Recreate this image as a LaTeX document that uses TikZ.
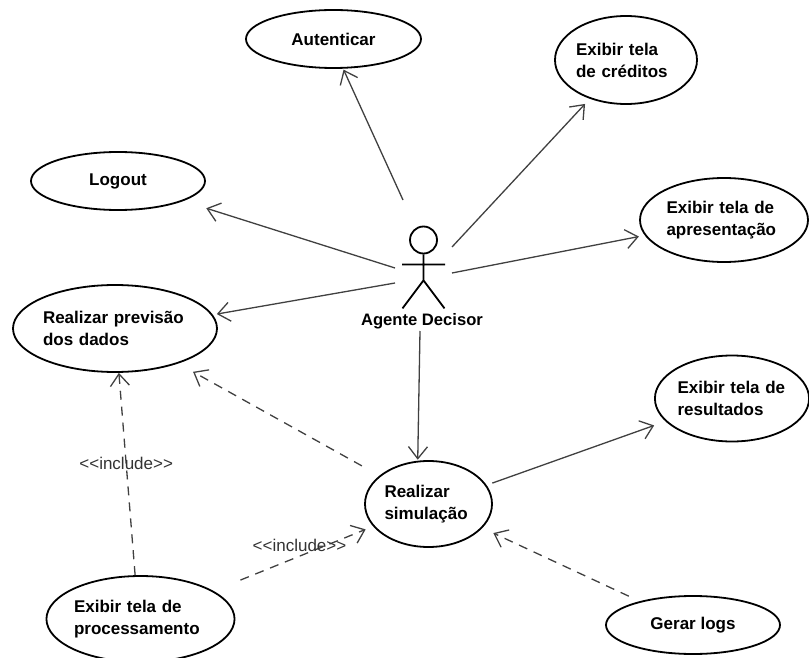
\documentclass[tikz,border=0pt]{standalone}
\usepackage{fontspec}
\setmainfont{Liberation Sans}
\usetikzlibrary{shapes,arrows.meta}
\tikzset{
    usecase/.style = {draw, ellipse, line width=1.8pt, inner sep=0pt, align=left,
        font=\fontsize{17}{22}\selectfont\bfseries},
    ator/.style = {inner sep=0pt, font=\fontsize{16.6}{22}\selectfont\bfseries},
    input/.style = {coordinate},
    arrow/.style = {draw, line width=1.3pt, black!75, -{Straight Barb[length=12pt,width=19pt]}},
    inclui/.style = {arrow, dash pattern=on 9pt off 7pt},
    rotulo/.style = {inner sep=0pt, black!80, font=\fontsize{17}{19}\selectfont}
}
\def\boneco{%
    -- +(0,26) +(-21.5,10) -- +(21.5,10) +(0,26) -- +(-21,54) +(0,26) -- +(21,54)
}
\begin{document}
\begin{tikzpicture}[x=1pt, y=-1pt]
        \useasboundingbox (0,0) rectangle (809,658);

        \node [usecase, minimum width=175, minimum height=58, name=autenticar] at (333.5,39) {Autenticar};
        \node [usecase, minimum width=142, minimum height=88, text width=100, name=creditos] at (626,60) {Exibir tela\\de créditos};
        \node [usecase, minimum width=174, minimum height=58, name=logout] at (118,181) {Logout};
        \node [usecase, minimum width=168, minimum height=84, text width=115, name=apresentacao] at (724,220) {Exibir tela de\\apresentação};
        \node [usecase, minimum width=204, minimum height=87, text width=144, name=previsao] at (115,328.5) {Realizar previsão\\dos dados};
        \node [usecase, minimum width=154, minimum height=86, text width=109, name=resultados] at (732,398.5) {Exibir tela de\\resultados};
        \node [usecase, minimum width=127, minimum height=86, text width=88, name=simulacao] at (428.5,504) {Realizar\\simulação};
        \node [usecase, minimum width=188, minimum height=86, text width=133, name=processamento] at (140.5,619) {Exibir tela de\\processamento};
        \node [usecase, minimum width=174, minimum height=58, name=logs] at (693,625) {Gerar logs};

        % ator
        \node [draw, circle, line width=1.8pt, minimum size=27, inner sep=0pt, name=cabeca] at (423.5,240) {};
        \draw [line width=1.8pt] (cabeca.south) \boneco;
        \node [ator, name=agente] at (422,321) {Agente Decisor};

        \node [input, name=ator1] at (403,200) {};
        \node [input, name=ator2] at (452,247) {};
        \node [input, name=ator3] at (452,273) {};
        \node [input, name=ator4] at (395,268) {};
        \node [input, name=ator5] at (395,283) {};
        \node [input, name=ator6] at (420,331) {};

        \draw [arrow, shorten >=1pt] (ator1) -- (autenticar.-72.4);
        \draw [arrow, shorten >=7pt] (ator2) -- (creditos.-133.6);
        \draw [arrow, shorten >=6pt] (ator3) -- (apresentacao.191.4);
        \draw [arrow, shorten >=24pt] (ator4) -- (logout.-17.4);
        \draw [arrow, shorten >=4pt] (ator5) -- (previsao.8.7);
        \draw [arrow, shorten >=1pt] (ator6) -- (simulacao.104);
        \draw [arrow, shorten <=6pt, shorten >=12pt] (simulacao.18.6) -- (resultados.199.9);

        \draw [inclui] (processamento.97) -- node [rotulo, name=inc1, pos=0.55] {{<}{<}include{>}{>}} (previsao.-85);
        \draw [inclui, shorten <=29pt, shorten >=8pt] (processamento.21.8) -- (simulacao.202.9);
        \node [rotulo, name=inc2] at (299.5,545) {{<}{<}include{>}{>}};
        \draw [inclui, shorten <=20pt, shorten >=17pt] (simulacao.150.9) -- (previsao.-29.8);
        \draw [inclui, shorten <=12pt, shorten >=12pt] (logs.156.4) -- (simulacao.-24.5);
    \end{tikzpicture}
\end{document}
